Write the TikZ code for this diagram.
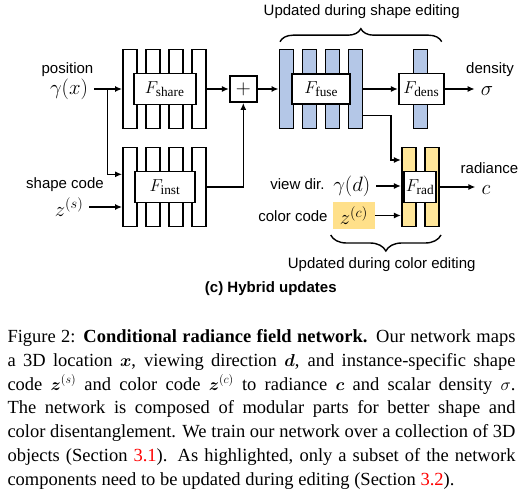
\documentclass[tikz,border=0pt]{standalone}
\usepackage{amsmath,amssymb}
\usepackage{bm}
\usepackage{fontspec}
\setmainfont{Liberation Serif}
\setsansfont{Liberation Sans}
\usepackage{xcolor}
\usetikzlibrary{arrows.meta,positioning,decorations.pathreplacing}
\definecolor{shapeblue}{HTML}{B4C7E7}
\definecolor{coloryellow}{HTML}{FFE699}
\definecolor{codeyellow}{HTML}{FFE08A}

\begin{document}
\begin{tikzpicture}[
  x=1pt, y=-1pt,
  lbl/.style={font=\fontsize{15}{17}\selectfont\sffamily,inner sep=1pt},
  mth/.style={font=\fontsize{21}{23}\selectfont,inner xsep=6pt,inner ysep=1pt},
  layer/.style={draw,line width=1.8pt,minimum width=14pt,minimum height=79pt,inner sep=0pt},
  net/.style={draw,fill=white,line width=1.8pt,inner sep=0pt,font=\fontsize{19}{21}\selectfont},
  arr/.style={-{Latex[length=7pt,width=6pt]},line width=1.5pt},
  brc/.style={decorate,decoration={brace,amplitude=13pt},line width=1.4pt}
]
\useasboundingbox (0,0) rectangle (530,495);
% inputs
\node[mth] (gx) at (69,89) {$\gamma(x)$};
\node[lbl] (pos) at (67.5,70) {position};
\node[mth] (zs) at (69,207) {$z^{(s)}$};
\node[lbl] (scode) at (65,185) {shape code};
% shared branch
\node[layer] (sh1) at (130,89) {};
\node[layer] (sh2) at (153,89) {};
\node[layer] (sh3) at (176,89) {};
\node[layer] (sh4) at (199,89) {};
\node[net,minimum width=62pt,minimum height=31pt] (share) at (164.7,89) {$F_{\mathrm{share}}$};
% instance branch
\node[layer] (in1) at (130,187) {};
\node[layer] (in2) at (153,187) {};
\node[layer] (in3) at (176,187) {};
\node[layer] (in4) at (199,187) {};
\node[net,minimum width=60pt,minimum height=31pt] (inst) at (165,187) {$F_{\mathrm{inst}}$};
\node[net,minimum width=27pt,minimum height=26pt,font=\fontsize{21}{23}\selectfont] (plus) at (243.3,89) {$+$};
% fuse and density
\node[layer,fill=shapeblue] (fu1) at (286.5,89) {};
\node[layer,fill=shapeblue] (fu2) at (309.5,89) {};
\node[layer,fill=shapeblue] (fu3) at (332.5,89) {};
\node[layer,fill=shapeblue] (fu4) at (355.5,89) {};
\node[net,minimum width=58pt,minimum height=30pt] (fuse) at (321.2,89) {$F_{\mathrm{fuse}}$};
\node[layer,fill=shapeblue] (de1) at (420.5,89) {};
\node[net,minimum width=45pt,minimum height=31pt] (dens) at (421.3,89) {$F_{\mathrm{dens}}$};
\node[mth] (sigma) at (487,91) {$\sigma$};
\node[lbl] (denlbl) at (490,69.5) {density};
% radiance
\node[layer,fill=coloryellow] (ra1) at (408.8,187) {};
\node[layer,fill=coloryellow] (ra2) at (432.2,187) {};
\node[net,minimum width=32pt,minimum height=31pt] (rad) at (420,187) {$F_{\mathrm{rad}}$};
\node[mth] (gd) at (351.7,186) {$\gamma(d)$};
\node[lbl] (vdir) at (297.5,184) {view dir.};
\node[mth,fill=codeyellow,minimum width=42pt,minimum height=27pt,inner xsep=2pt] (zc) at (353.8,215.5) {$z^{(c)}$};
\node[lbl] (ccode) at (293,216) {color code};
\node[mth] (cout) at (486,190) {$c$};
\node[lbl] (radlbl) at (489.5,168) {radiance};
% annotations
\draw[brc] (280,41.7) -- (441.7,41.7);
\node[lbl] (shapeupd) at (361.7,12) {Updated during shape editing};
\draw[brc,decoration={amplitude=16pt}] (441,235) -- (330.7,235);
\node[lbl] (colorupd) at (381.7,265) {Updated during color editing};
\node[lbl,font=\fontsize{15}{17}\selectfont\sffamily\bfseries] (sub) at (270.8,289) {(c) Hybrid updates};
% connectors
\coordinate (split) at (107.3,89);
\draw[arr] (gx) -- (sh1);
\draw[arr] (split) |- ([yshift=12.7pt]in1.west);
\draw[arr] (zs) -- (zs -| in1.west);
\draw[arr] (sh4) -- (plus);
\draw[arr] (in4.east) -| (plus.south);
\draw[arr] (plus) -- (fu1);
\draw[arr] (fu4) -- (dens);
\draw[arr] (dens) -- (dens -| sigma.west);
\draw[arr] ([yshift=-26.7pt]fu4.east) -- ++(27.8,0) |- ([yshift=27pt]ra1.west);
\draw[arr] (gd) -- (gd -| ra1.west);
\draw[arr] (zc.east) -- (zc.east -| ra1.west);
\draw[arr] (ra2) -- (ra2 -| cout.west);
% caption
\node[anchor=north west,inner sep=0pt,text width=508pt,align=justify,
  font=\fontsize{18.5}{23.9}\selectfont] (caption) at (7.3,329) {\hyphenpenalty=10000\relax
Figure 2: \textbf{Conditional radiance field network.} Our network maps\linebreak
a 3D location $\bm{x}$, viewing direction $\bm{d}$, and instance-specific shape\linebreak
code $\bm{z}^{(s)}$ and color code $\bm{z}^{(c)}$ to radiance $\bm{c}$ and scalar density $\sigma$.\linebreak
The network is composed of modular parts for better shape and\linebreak
color disentanglement. We train our network over a collection of 3D\linebreak
objects (Section \textcolor{red}{3.1}). As highlighted, only a subset of the network\linebreak
components need to be updated during editing (Section \textcolor{red}{3.2}).};
\end{tikzpicture}
\end{document}
